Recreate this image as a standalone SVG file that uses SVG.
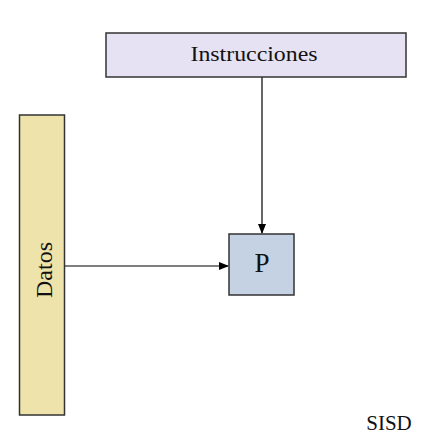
<svg xmlns="http://www.w3.org/2000/svg" width="442" height="444" viewBox="0 0 442 444">
<defs>
<marker id="arr" markerWidth="10" markerHeight="10" refX="9" refY="5" orient="auto" markerUnits="userSpaceOnUse">
<path d="M0,1 L10,5 L0,9 Z" fill="#000"/>
</marker>
<style>
.box{stroke:#333;stroke-width:1.5}
.t{font-family:"Liberation Serif","Times New Roman",serif;fill:#111;text-anchor:middle}
.c{stroke:#000;stroke-width:1.2;fill:none}
</style>
</defs>
<rect width="442" height="444" fill="#fff"/>
<g id="connectors">
<line class="c" x1="262" y1="77" x2="262" y2="233" marker-end="url(#arr)"/>
<line class="c" x1="64.5" y1="266" x2="228" y2="266" marker-end="url(#arr)"/>
</g>
<g id="instrucciones">
<rect class="box" x="106" y="33" width="300" height="44" fill="#E7E2F3"/>
<text class="t" x="254" y="61" font-size="22" textLength="127" lengthAdjust="spacingAndGlyphs">Instrucciones</text>
</g>
<g id="datos">
<rect class="box" x="19.5" y="115" width="45" height="300" fill="#EEE3AA"/>
<text class="t" x="0" y="0" font-size="24" transform="translate(52,270) rotate(-90)">Datos</text>
</g>
<g id="p">
<rect class="box" x="229" y="234" width="65" height="61" fill="#C4D2E3"/>
<text class="t" x="262" y="272" font-size="27">P</text>
</g>
<g id="sisd">
<text class="t" x="389" y="430" font-size="21">SISD</text>
</g>
</svg>
